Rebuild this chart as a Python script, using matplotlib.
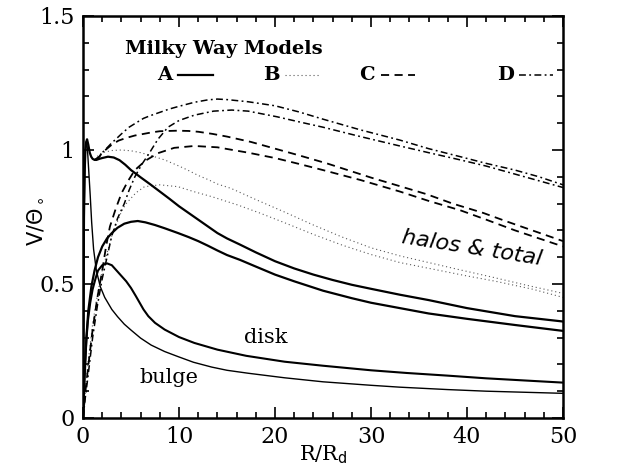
import matplotlib
matplotlib.use("Agg")
import matplotlib.pyplot as plt
from matplotlib.ticker import MultipleLocator

# ---------------- data ----------------
R_totA = [0, 0.05, 0.1, 0.18, 0.25, 0.33, 0.42, 0.55, 0.7, 0.85, 1.0, 1.2, 1.4, 1.7, 2.0, 2.6, 3.2, 3.8, 4.4, 5, 6, 7, 8, 9, 10,
          11, 12, 13, 14, 15, 16.35, 18, 20, 22, 24, 26, 28, 30, 33, 36, 40, 45, 50]
V_totA = [0, 0.45, 0.75, 0.93, 1.0, 1.03, 1.04, 1.02, 0.99, 0.975, 0.967, 0.963, 0.963, 0.967, 0.97, 0.975, 0.972, 0.962, 0.945,
          0.925, 0.898, 0.872, 0.845, 0.818, 0.79, 0.765, 0.74, 0.715, 0.69, 0.67, 0.647, 0.618, 0.585, 0.558, 0.535, 0.515,
          0.497, 0.482, 0.46, 0.44, 0.41, 0.38, 0.36]

R_haloA = [0, 0.1, 0.2, 0.35, 0.55, 0.87, 1.2, 1.56, 2.0, 2.5, 3.0, 3.6, 4.3, 5.0, 5.7, 6.5, 7.5, 8.5, 9.9, 11, 12, 13, 14, 15,
           16.35, 18, 20, 22, 25, 28, 30, 33, 36, 40, 45, 50]
V_haloA = [0, 0.1, 0.18, 0.30, 0.40, 0.49, 0.55, 0.60, 0.64, 0.67, 0.69, 0.71, 0.725, 0.732, 0.735, 0.73, 0.72, 0.708, 0.69,
           0.675, 0.66, 0.643, 0.625, 0.608, 0.59, 0.565, 0.535, 0.51, 0.475, 0.447, 0.43, 0.41, 0.39, 0.37, 0.347, 0.325]

R_disk = [0, 0.1, 0.2, 0.35, 0.5, 0.75, 1.0, 1.3, 1.56, 2.0, 2.5, 3.0, 3.5, 4.0, 4.5, 5.0, 5.5, 5.9, 6.3, 6.8, 7.5, 8.5, 10,
          11.6, 14, 17, 21, 25, 30, 33.7, 38, 42, 46, 50]
V_disk = [0, 0.12, 0.2, 0.29, 0.36, 0.43, 0.48, 0.52, 0.55, 0.57, 0.577, 0.57, 0.55, 0.53, 0.51, 0.485, 0.455, 0.43, 0.405,
          0.38, 0.355, 0.33, 0.302, 0.28, 0.255, 0.232, 0.21, 0.195, 0.178, 0.168, 0.158, 0.148, 0.14, 0.132]

R_bulge = [0, 0.05, 0.1, 0.17, 0.25, 0.33, 0.4, 0.5, 0.6, 0.75, 0.9, 1.1, 1.39, 1.8, 2.26, 3.0, 3.6, 4.3, 5, 6, 7.1, 8.5,
           9.9, 11.5, 13.4, 15, 17.2, 21, 25, 30, 33, 38, 42, 46, 50]
V_bulge = [0, 0.4, 0.7, 0.9, 1.0, 1.03, 1.03, 0.98, 0.92, 0.83, 0.73, 0.63, 0.55, 0.49, 0.45, 0.405, 0.378, 0.35, 0.328,
           0.298, 0.272, 0.248, 0.229, 0.208, 0.19, 0.178, 0.167, 0.15, 0.135, 0.122, 0.115, 0.106, 0.10, 0.096, 0.092]

R_totB = [1.2, 1.6, 2, 3, 4, 5, 6, 7, 8.5, 10, 10.9, 12, 13, 14, 15.4, 18, 20.9, 24, 27, 30, 33, 36, 39, 42.7, 46, 50]
V_totB = [0.965, 0.98, 0.99, 0.998, 1.0, 0.997, 0.99, 0.98, 0.963, 0.94, 0.925, 0.905, 0.89, 0.873, 0.857, 0.815, 0.77,
          0.72, 0.675, 0.635, 0.605, 0.58, 0.555, 0.525, 0.497, 0.465]

R_haloB = [0, 0.5, 1, 1.5, 2, 3, 4, 4.5, 5.5, 6.4, 8, 9.9, 11.5, 13.4, 16.1, 18.4, 20.9, 24, 27, 30, 33, 36.5, 40, 43,
           46.9, 50]
V_haloB = [0, 0.2, 0.35, 0.46, 0.55, 0.68, 0.77, 0.80, 0.84, 0.863, 0.87, 0.863, 0.845, 0.826, 0.795, 0.765, 0.73, 0.685,
           0.645, 0.61, 0.58, 0.555, 0.53, 0.51, 0.48, 0.45]

R_totC = [1.3, 1.7, 2, 2.5, 3, 3.7, 4.5, 5.4, 6.3, 7.2, 8, 9.8, 11, 12, 13.5, 15, 17.5, 20, 22.5, 25.4, 28, 30, 33, 35.8,
          38.5, 41.7, 44, 46, 48, 50]
V_totC = [0.965, 0.975, 0.99, 1.005, 1.02, 1.035, 1.045, 1.054, 1.06, 1.066, 1.07, 1.072, 1.071, 1.068, 1.06, 1.05, 1.03,
          1.005, 0.98, 0.95, 0.92, 0.897, 0.865, 0.835, 0.8, 0.765, 0.735, 0.71, 0.685, 0.66]

R_haloC = [0, 0.25, 0.5, 1, 1.5, 2, 2.4, 2.8, 3.4, 4, 4.7, 5.4, 6.5, 7.8, 9.5, 11.6, 14, 17.2, 20, 22.5, 25, 28.9, 33,
           36, 39.3, 42, 45, 47.5, 50]
V_haloC = [0, 0.1, 0.18, 0.33, 0.45, 0.55, 0.64, 0.714, 0.78, 0.838, 0.885, 0.925, 0.96, 0.988, 1.008, 1.015, 1.01, 0.99,
           0.97, 0.948, 0.925, 0.888, 0.845, 0.81, 0.775, 0.74, 0.70, 0.67, 0.64]

R_totD = [1.3, 1.7, 2, 2.5, 2.95, 3.5, 4, 4.8, 5.7, 6.3, 7, 8.2, 9, 10, 11.6, 13, 14, 15, 17.2, 20, 22.5, 25, 28.9, 33,
          36, 39.3, 42, 45, 47.5, 50]
V_totD = [0.965, 0.975, 0.99, 1.008, 1.025, 1.043, 1.06, 1.085, 1.105, 1.118, 1.128, 1.143, 1.153, 1.163, 1.178, 1.187,
          1.19, 1.188, 1.18, 1.165, 1.142, 1.115, 1.075, 1.037, 1.005, 0.975, 0.95, 0.925, 0.9, 0.87]

R_haloD = [0, 0.25, 0.5, 1, 1.5, 2, 2.5, 3, 3.6, 4.3, 4.8, 5.4, 6.1, 6.9, 7.8, 8.85, 10, 11.6, 13.6, 15.5, 17.2, 20.2,
           22.5, 25, 28.9, 33, 36, 39.3, 42, 45, 47.5, 50]
V_haloD = [0, 0.08, 0.15, 0.3, 0.42, 0.52, 0.6, 0.68, 0.745, 0.80, 0.85, 0.90, 0.945, 0.988, 1.04, 1.085, 1.11, 1.13,
           1.145, 1.149, 1.145, 1.124, 1.105, 1.085, 1.05, 1.015, 0.99, 0.963, 0.94, 0.91, 0.885, 0.86]

x_ticks = [0, 10, 20, 30, 40, 50]
y_ticks = [0, 0.5, 1, 1.5]
y_ticklabels = ["0", "0.5", "1", "1.5"]
model_names = ["A", "B", "C", "D"]

# ---------------- styles ----------------
K = "black"
sty_A = dict(color=K, lw=1.6, ls="-")
sty_B = dict(color="0.35", lw=0.8, ls=(0, (1, 2.6)))
sty_C = dict(color=K, lw=1.3, ls=(0, (4.5, 3)))
sty_D = dict(color=K, lw=1.1, ls=(0, (4.5, 2.2, 1.2, 2.2)))

fig = plt.figure(figsize=(6.28, 4.73), dpi=100)
ax = fig.add_axes([0.1322, 0.1163, 0.8965 - 0.1322, 0.9662 - 0.1163])

ax.plot(R_haloB, V_haloB, **sty_B)
ax.plot(R_totB, V_totB, **sty_B)
ax.plot(R_haloC, V_haloC, **sty_C)
ax.plot(R_totC, V_totC, **sty_C)
ax.plot(R_haloD, V_haloD, **sty_D)
ax.plot(R_totD, V_totD, **sty_D)
ax.plot(R_haloA, V_haloA, **sty_A)
ax.plot(R_totA, V_totA, **sty_A)
ax.plot(R_disk, V_disk, color=K, lw=1.5)
ax.plot(R_bulge, V_bulge, color=K, lw=1.0)

ax.set_xlim(0, 50)
ax.set_ylim(0, 1.5)
ax.xaxis.set_minor_locator(MultipleLocator(2))
ax.yaxis.set_minor_locator(MultipleLocator(0.1))
ax.set_xticks(x_ticks)
ax.set_yticks(y_ticks)
ax.set_yticklabels(y_ticklabels)
ax.tick_params(which="both", direction="in", top=True, right=True, width=1.2)
ax.tick_params(which="major", length=8, labelsize=16, pad=6)
ax.tick_params(which="minor", length=4)
for lab in ax.get_xticklabels() + ax.get_yticklabels():
    lab.set_family("DejaVu Serif")
for s in ax.spines.values():
    s.set_linewidth(1.8)

xl = ax.set_xlabel(r"R/R$_\mathrm{d}$", fontsize=15, family="DejaVu Serif")
ax.xaxis.set_label_coords(0.5, -0.092)
xl.set_va("center")
yl = ax.set_ylabel(r"V/$\Theta_\circ$", fontsize=15, family="DejaVu Sans")
ax.yaxis.set_label_coords(-0.10, 0.49)
yl.set_va("center")

# legend block
ax.text(0.088, 0.917, "Milky Way Models", transform=ax.transAxes, fontsize=14,
        family="DejaVu Serif", weight="bold", ha="left", va="center")
leg_x = [0.170, 0.392, 0.592, 0.880]
leg_sty = [sty_A, sty_B, sty_C, sty_D]
for name, x0, st in zip(model_names, leg_x, leg_sty):
    ax.text(x0, 0.852, name, transform=ax.transAxes, fontsize=14,
            family="DejaVu Serif", weight="bold", ha="center", va="center")
    ax.plot([x0 + 0.028, x0 + 0.10], [0.852, 0.852], transform=ax.transAxes, **st)

ax.text(40.5, 0.634, "halos & total", fontsize=16, family="DejaVu Sans",
        style="italic", rotation=-9, ha="center", va="center")
ax.text(19.0, 0.30, "disk", fontsize=15, family="DejaVu Serif", ha="center", va="center")
ax.text(9.0, 0.15, "bulge", fontsize=15, family="DejaVu Serif", ha="center", va="center")

fig.savefig("out.png", dpi=100)
